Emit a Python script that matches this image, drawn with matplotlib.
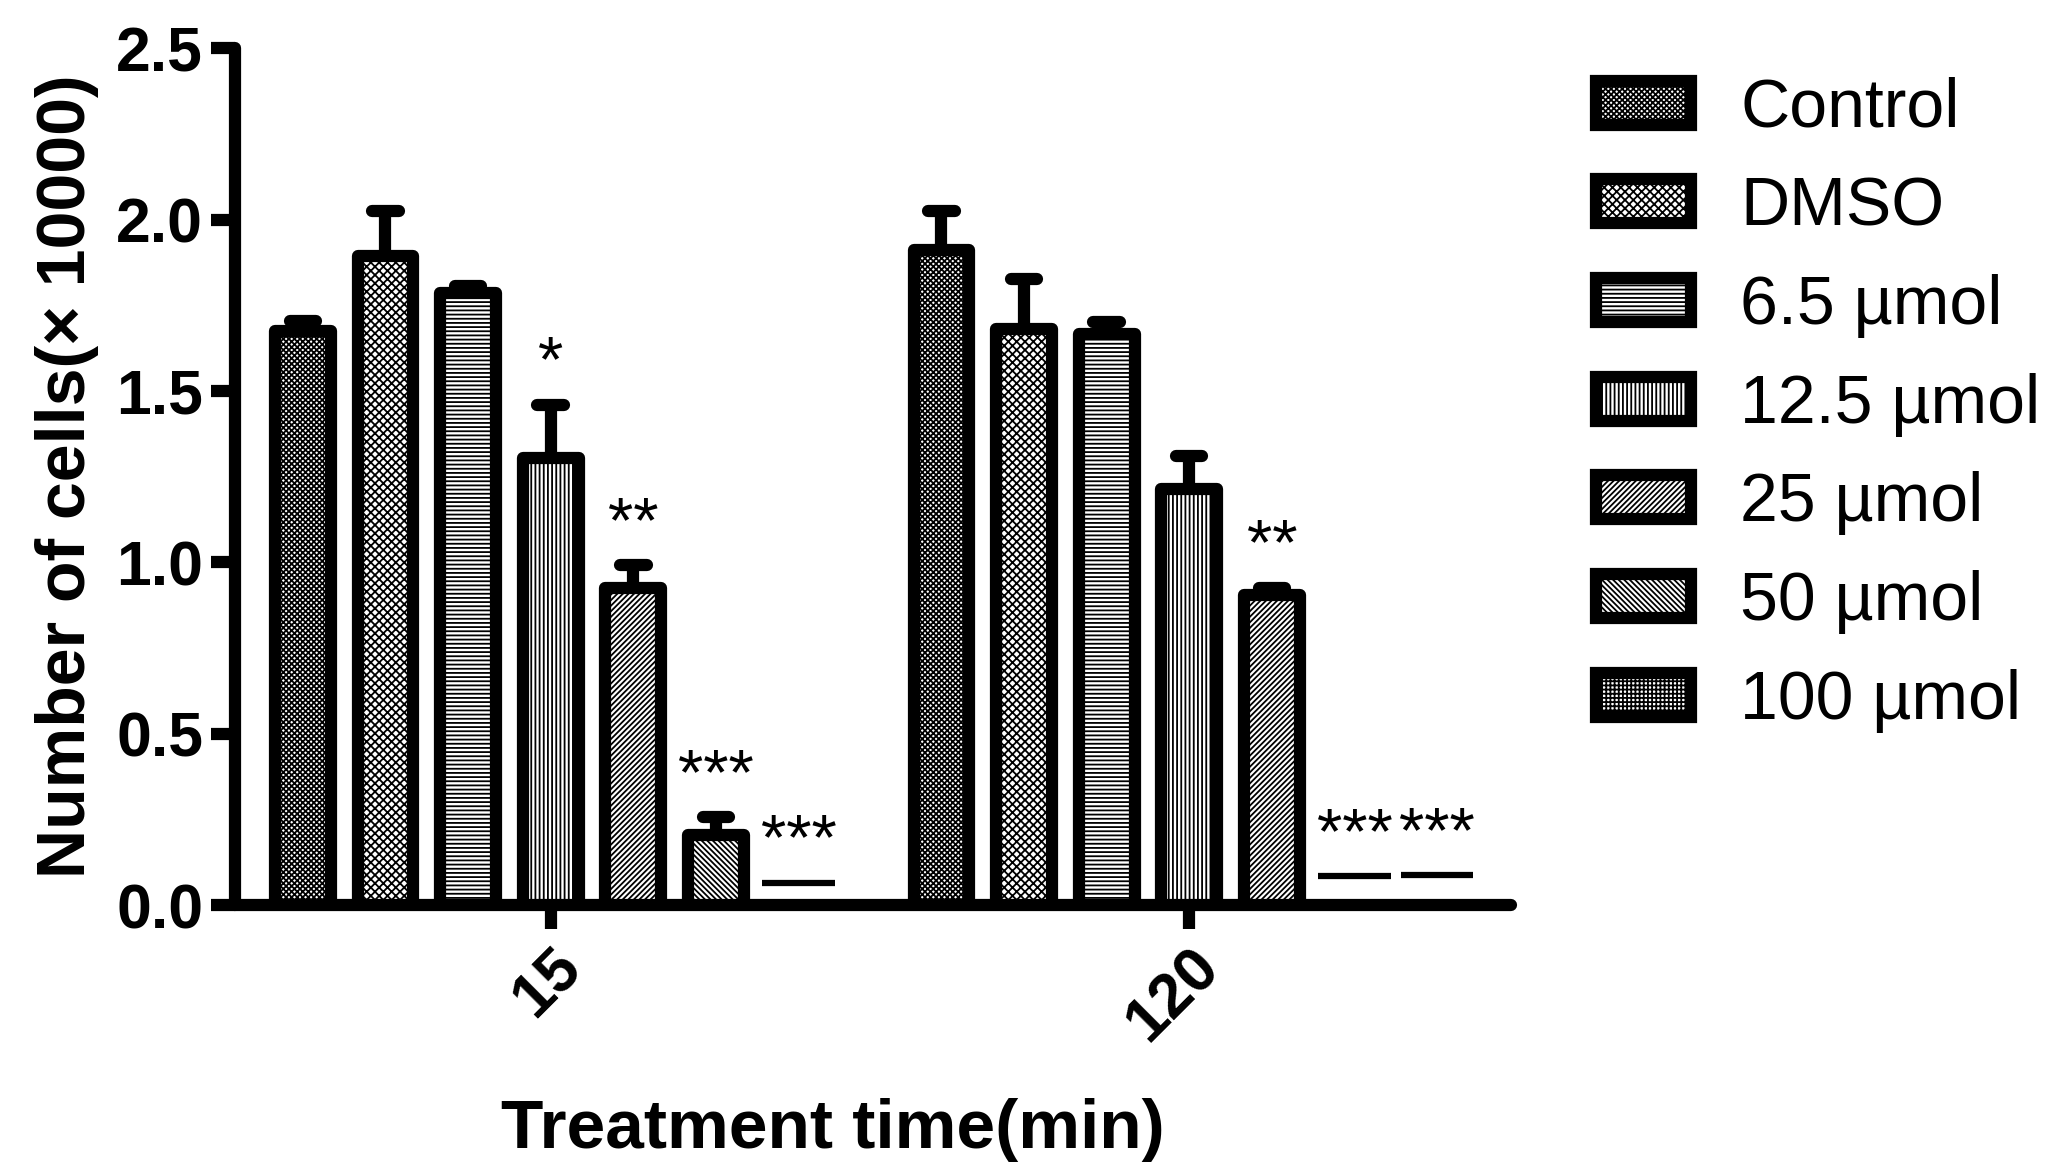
import matplotlib
matplotlib.use("Agg")
import matplotlib.pyplot as plt
import numpy as np
from matplotlib.patches import Rectangle

plt.rcParams['font.family'] = ['Liberation Sans', 'DejaVu Sans']
plt.rcParams['hatch.linewidth'] = 1.3

categories = ['Control', 'DMSO', '6.5 µmol', '12.5 µmol', '25 µmol', '50 µmol', '100 µmol']
times = ['15', '120']
mean_15 = [1.675, 1.895, 1.785, 1.305, 0.925, 0.205, 0.065]
err_15 = [0.03, 0.13, 0.02, 0.155, 0.067, 0.052, 0.0]
mean_120 = [1.91, 1.68, 1.665, 1.215, 0.905, 0.085, 0.088]
err_120 = [0.114, 0.148, 0.036, 0.094, 0.021, 0.0, 0.0]
stars_15 = ['', '', '', '*', '**', '***', '***']
stars_120 = ['', '', '', '', '**', '***', '***']
flat_15 = [False, False, False, False, False, False, True]
flat_120 = [False, False, False, False, False, True, True]

hatches = ['xxxxxx', 'xxxx', '----', '||||', '//////', '\\\\\\\\\\\\', '++++']

group_offset = 7.73
bar_w = 0.675
lw = 8.8

fig = plt.figure(figsize=(20.64, 11.74), dpi=100)
ax = fig.add_axes([0.1139, 0.229, 0.618, 0.730])

means = [mean_15, mean_120]
errs = [err_15, err_120]
stars = [stars_15, stars_120]
flats = [flat_15, flat_120]

for g in range(2):
    xs = np.arange(len(categories)) + g * group_offset
    for i, cat in enumerate(categories):
        x = xs[i]
        m = means[g][i]
        e = errs[g][i]
        if flats[g][i]:
            ax.hlines(m, x - 0.44, x + 0.44, color='black', linewidth=4.5, zorder=3)
            top = m
        else:
            b = ax.bar(x, m, width=bar_w, facecolor='white', edgecolor='black',
                       linewidth=lw, hatch=hatches[i], zorder=3)
            for p in b:
                p.set_joinstyle('round')
            if e > 0:
                ax.vlines(x, m, m + e, color='black', linewidth=lw, zorder=2)
                ax.hlines(m + e, x - 0.16, x + 0.16, color='black', linewidth=lw,
                          zorder=2, capstyle='round')
            top = m + e
        if stars[g][i]:
            ax.text(x, top + 0.03, stars[g][i], ha='center', va='bottom',
                    fontsize=47, zorder=4)

handles = []
for i, cat in enumerate(categories):
    r = Rectangle((0, 0), 1, 1, facecolor='white', edgecolor='black', linewidth=lw,
                  hatch=hatches[i], joinstyle='round')
    handles.append(r)
leg = fig.legend(handles, categories, loc='upper left', bbox_to_anchor=(0.760, 0.958),
                 frameon=False, fontsize=49, handlelength=1.4, handleheight=0.62,
                 handletextpad=0.72, labelspacing=0.51, borderaxespad=0)

ax.set_xlim(-0.82, 14.62)
ax.set_ylim(0, 2.5)
ax.set_yticks([0.0, 0.5, 1.0, 1.5, 2.0, 2.5])
ax.set_yticklabels(['0.0', '0.5', '1.0', '1.5', '2.0', '2.5'])
ax.set_xticks([3, 3 + group_offset])
ax.set_xticklabels(times, rotation=45, ha='right', va='top', rotation_mode='anchor')

for s in ['top', 'right']:
    ax.spines[s].set_visible(False)
for s in ['left', 'bottom']:
    ax.spines[s].set_linewidth(lw)
    ax.spines[s].set_capstyle('round')

ax.tick_params(axis='both', width=lw, length=17, direction='out', labelsize=45, pad=6)
for lab in ax.get_xticklabels() + ax.get_yticklabels():
    lab.set_fontweight('bold')

ax.set_ylabel('Number of cells(× 10000)', fontsize=49, fontweight='bold', labelpad=12)
ax.set_xlabel('Treatment time(min)', fontsize=50, fontweight='bold', labelpad=33)
ax.xaxis.label.set_x(0.469)

fig.savefig('out.png', dpi=100)
